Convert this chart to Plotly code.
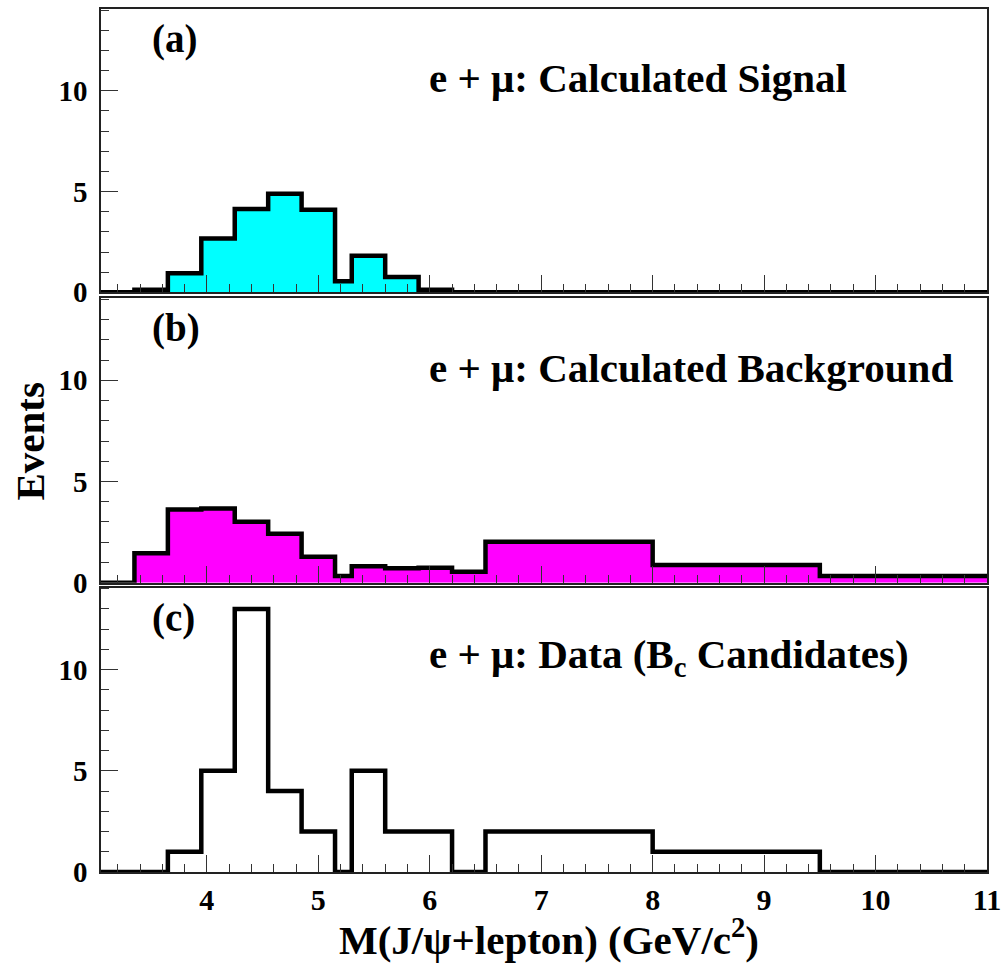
import plotly.graph_objects as go

# ---------------- data ----------------
# Bin edges (GeV/c^2) and contents for each histogram
signal_edges = [3.05, 3.35, 3.65, 3.95, 4.25, 4.55, 4.85, 5.15, 5.30, 5.60, 5.90, 6.20, 11.0]
signal_vals = [0, 0.13, 0.95, 2.67, 4.13, 4.89, 4.09, 0.55, 1.81, 0.76, 0.13, 0]

bkg_edges = [3.05, 3.35, 3.65, 3.95, 4.25, 4.55, 4.85, 5.15, 5.30, 5.60, 5.90, 6.20, 6.50, 8.0, 9.5, 11.0]
bkg_vals = [0, 1.45, 3.62, 3.67, 3.01, 2.42, 1.28, 0.33, 0.81, 0.71, 0.74, 0.54, 2.02, 0.87, 0.33]

data_edges = [3.05, 3.65, 3.95, 4.25, 4.55, 4.85, 5.15, 5.30, 5.60, 6.20, 6.50, 8.0, 9.5, 11.0]
data_vals = [0, 1, 5, 13, 4, 2, 0, 5, 2, 0, 2, 1, 0]

x_tick_vals = [4, 5, 6, 7, 8, 9, 10, 11]
y_tick_vals = [0, 5, 10]

panel_labels = ["(a)", "(b)", "(c)"]
panel_texts = ["e + μ: Calculated Signal",
               "e + μ: Calculated Background",
               "e + μ: Data (B<sub>c</sub> Candidates)"]
x_title = "M(J/ψ+lepton) (GeV/c<sup>2</sup>)"
y_title = "Events"

# ---------------- figure ----------------
FONT = "Liberation Serif, Times New Roman, serif"
W, H = 1008, 964
ML, MR, MT, MB = 101, 15, 7, 92
plot_h = H - MT - MB

def frac(py):
    return (H - MB - py) / plot_h

domains = [
    [frac(291), 1.0],
    [frac(582), frac(297)],
    [0.0, frac(587)],
]

def step(edges, vals):
    xs = list(edges)
    ys = list(vals) + [vals[-1]]
    return xs, ys

fig = go.Figure()
hists = [(signal_edges, signal_vals, "#00FFFF"),
         (bkg_edges, bkg_vals, "#FF00FF"),
         (data_edges, data_vals, None)]

for i, (e, v, col) in enumerate(hists):
    xs, ys = step(e, v)
    sfx = "" if i == 0 else str(i + 1)
    fig.add_trace(go.Scatter(
        x=xs, y=ys, mode="lines", line=dict(shape="hv", color="black", width=4.5),
        fill="tozeroy" if col else None, fillcolor=col,
        xaxis="x" + sfx, yaxis="y" + sfx, hoverinfo="skip", showlegend=False))

layout = dict(
    width=W, height=H,
    margin=dict(l=ML, r=MR, t=MT, b=MB),
    plot_bgcolor="white", paper_bgcolor="white",
    font=dict(family=FONT, size=28, color="black", weight="bold"),
    showlegend=False,
)

for i in range(3):
    sfx = "" if i == 0 else str(i + 1)
    layout["xaxis" + sfx] = dict(
        range=[3.05, 11], anchor="y" + sfx, domain=[0, 1],
        tickvals=x_tick_vals, showticklabels=(i == 2),
        ticks="inside", ticklen=17, tickwidth=1, tickcolor="#333",
        minor=dict(ticks="inside", ticklen=8, dtick=0.2, tick0=3, tickcolor="#333", tickwidth=1),
        showgrid=False, zeroline=False,
        showline=True, linecolor="#222", linewidth=2, mirror=True,
        tickfont=dict(family=FONT, size=30, weight="bold"),
        matches="x" if i > 0 else None,
    )
    layout["yaxis" + sfx] = dict(
        range=[0, 14.05], anchor="x" + sfx, domain=domains[i],
        tickvals=y_tick_vals,
        ticks="inside", ticklen=17, tickwidth=1, tickcolor="#333",
        minor=dict(ticks="inside", ticklen=8, dtick=1, tick0=0, tickcolor="#333", tickwidth=1),
        showgrid=False, zeroline=False,
        showline=True, linecolor="#222", linewidth=1.5, mirror=True,
        tickfont=dict(family=FONT, size=29, weight="bold"),
        ticklabelstandoff=6,
    )

fig.update_layout(**layout)

anns = []
for i in range(3):
    sfx = "" if i == 0 else str(i + 1)
    anns.append(dict(text=panel_labels[i], xref="x" + sfx + " domain", yref="y" + sfx + " domain",
                     x=0.055, y=0.895, xanchor="left", yanchor="middle", showarrow=False,
                     font=dict(family=FONT, size=39, weight="bold")))
    anns.append(dict(text=panel_texts[i], xref="x" + sfx + " domain", yref="y" + sfx + " domain",
                     x=0.368, y=0.755, xanchor="left", yanchor="middle", showarrow=False,
                     font=dict(family=FONT, size=41, weight="bold")))

anns.append(dict(text=x_title, xref="paper", yref="paper", x=(552 - ML) / (W - ML - MR),
                 y=frac(937), xanchor="center", yanchor="middle", showarrow=False,
                 font=dict(family=FONT, size=41, weight="bold")))
anns.append(dict(text=y_title, xref="paper", yref="paper", x=(30 - ML) / (W - ML - MR),
                 y=frac(440), xanchor="center", yanchor="middle", showarrow=False, textangle=-90,
                 font=dict(family=FONT, size=41, weight="bold")))
fig.update_layout(annotations=anns)

fig.write_html("out.html")
